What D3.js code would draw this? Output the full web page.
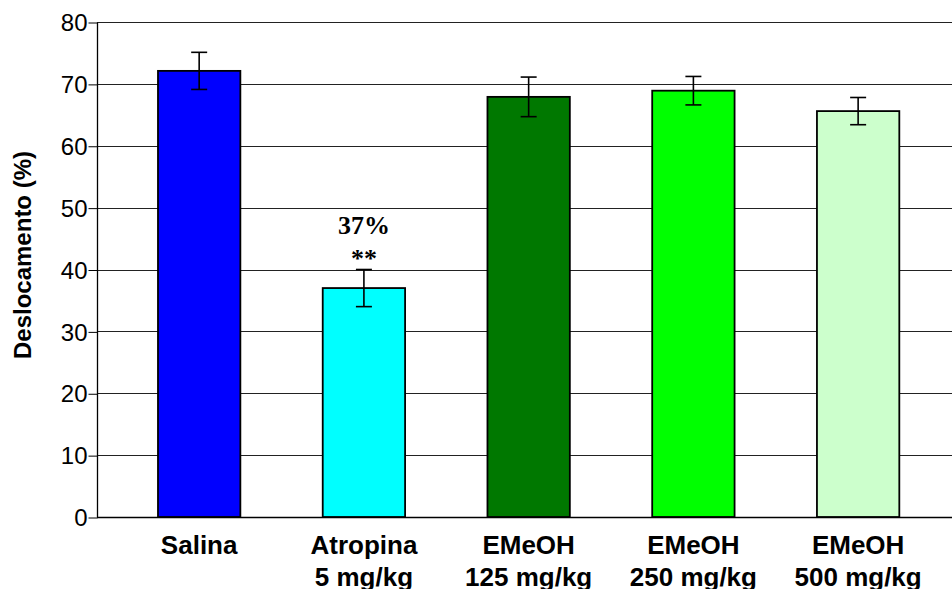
<!DOCTYPE html>
<html><head><meta charset="utf-8">
<script src="https://cdn.jsdelivr.net/npm/d3@7"></script>
<style>html,body{margin:0;padding:0;background:#fff;}svg{display:block;}</style>
</head><body>
<svg id="chart" width="952" height="589"></svg>
<script>
const categories = [["Salina"], ["Atropina", "5 mg/kg"], ["EMeOH", "125 mg/kg"], ["EMeOH", "250 mg/kg"], ["EMeOH", "500 mg/kg"]];
const values = [72.1, 37.0, 67.9, 68.9, 65.6];
const errors = [3.0, 3.0, 3.2, 2.3, 2.2];
const colors = ["#0000ff", "#00ffff", "#007800", "#00ff00", "#ccffcc"];
const yTicks = [0, 10, 20, 30, 40, 50, 60, 70, 80];
const yLabel = "Deslocamento (%)";
const annotations = [{index: 1, text: "37%"}, {index: 1, text: "**"}];

(function () {
const svg = d3.select("#chart");
const pLeft = 97, pRight = 952, pTop = 22, pBottom = 517;
const ids = categories.map((c, i) => i);
const x = d3.scaleBand().domain(ids).range([116.8, 940.5]).paddingInner(0.5).paddingOuter(0.25);
const y = d3.scaleLinear().domain([0, 80]).range([pBottom, pTop]);

// gridlines
svg.append("g").selectAll("line").data(yTicks.filter(t => t > 0)).join("line")
  .attr("x1", pLeft).attr("x2", pRight)
  .attr("y1", d => Math.round(y(d)) + 0.5).attr("y2", d => Math.round(y(d)) + 0.5)
  .attr("stroke", "#222").attr("stroke-width", 1);

// y axis
const yAxis = d3.axisLeft(y).tickValues(yTicks).tickSize(9).tickPadding(1);
const ga = svg.append("g").attr("transform", `translate(${pLeft + 0.5},0.5)`).call(yAxis);
ga.select(".domain").attr("stroke", "#000").attr("stroke-width", 1.3).attr("d", `M0,${pTop}V${pBottom}`);
ga.selectAll(".tick line").attr("stroke", "#000").attr("stroke-width", 1);
ga.selectAll(".tick text").attr("font-family", "Liberation Sans, Arial, sans-serif").attr("font-size", 24).attr("fill", "#000").attr("dy", "0.34em");

// x axis line
svg.append("line").attr("x1", pLeft).attr("x2", pRight).attr("y1", pBottom + 0.5).attr("y2", pBottom + 0.5)
  .attr("stroke", "#000").attr("stroke-width", 1.3);

// bars
svg.append("g").selectAll("rect").data(values).join("rect")
  .attr("x", (d, i) => x(i)).attr("width", x.bandwidth())
  .attr("y", d => y(d)).attr("height", d => y(0) - y(d))
  .attr("fill", (d, i) => colors[i]).attr("stroke", "#000").attr("stroke-width", 1.8);

// error bars
const eg = svg.append("g").attr("stroke", "#000").attr("stroke-width", 1.6);
values.forEach((v, i) => {
  const cx = x(i) + x.bandwidth() / 2;
  eg.append("line").attr("x1", cx).attr("x2", cx).attr("y1", y(v + errors[i])).attr("y2", y(v - errors[i]));
  eg.append("line").attr("x1", cx - 8).attr("x2", cx + 8).attr("y1", y(v + errors[i])).attr("y2", y(v + errors[i]));
  eg.append("line").attr("x1", cx - 8).attr("x2", cx + 8).attr("y1", y(v - errors[i])).attr("y2", y(v - errors[i]));
});

// x labels
const lg = svg.append("g").attr("font-family", "Liberation Sans, Arial, sans-serif").attr("font-size", 26)
  .attr("font-weight", "bold").attr("text-anchor", "middle").attr("fill", "#000");
categories.forEach((c, i) => {
  const cx = x(i) + x.bandwidth() / 2;
  const t = lg.append("text").attr("x", cx).attr("y", 554);
  c.forEach((line, j) => t.append("tspan").attr("x", cx).attr("dy", j === 0 ? 0 : 32).text(line));
});

// y label
svg.append("text").attr("transform", "translate(31,255) rotate(-90)")
  .attr("text-anchor", "middle").attr("font-family", "Liberation Sans, Arial, sans-serif")
  .attr("font-size", 24).attr("font-weight", "bold").attr("fill", "#000").text(yLabel);

// annotations
const ax = x(annotations[0].index) + x.bandwidth() / 2;
svg.append("text").attr("x", ax).attr("y", 234).attr("text-anchor", "middle")
  .attr("font-family", "Liberation Serif, Times New Roman, serif").attr("font-size", 26).attr("font-weight", "bold")
  .text(annotations[0].text);
svg.append("text").attr("x", ax).attr("y", 267).attr("text-anchor", "middle")
  .attr("font-family", "Liberation Serif, Times New Roman, serif").attr("font-size", 26).attr("font-weight", "bold")
  .text(annotations[1].text);
})();
</script>
</body></html>
